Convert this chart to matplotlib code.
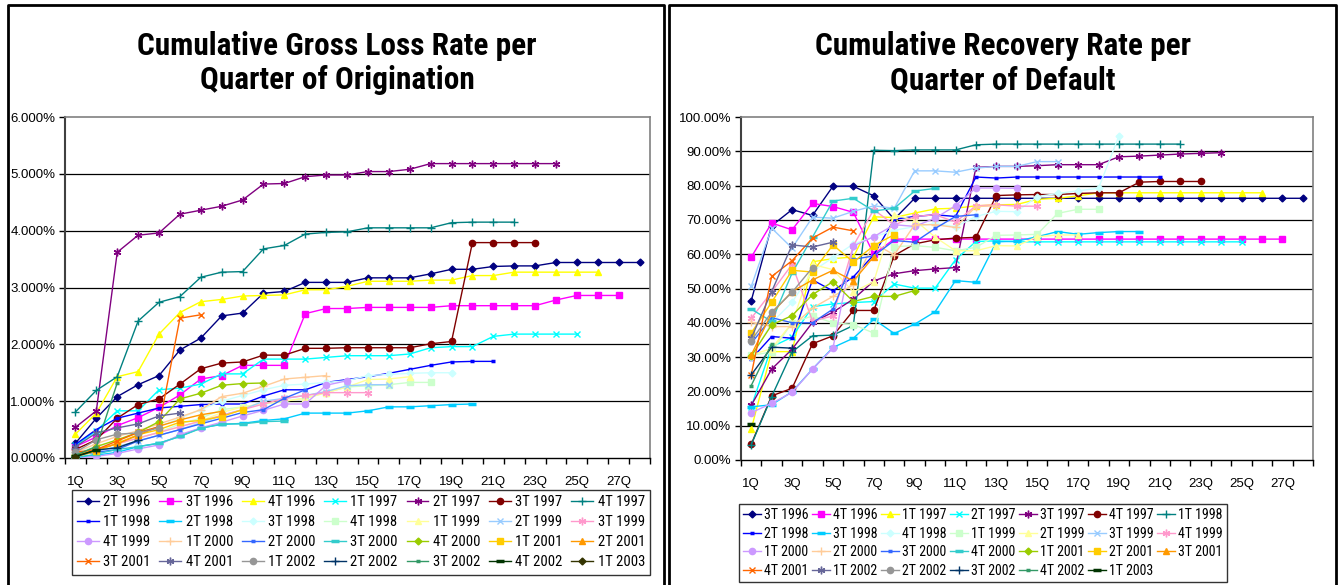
import matplotlib
matplotlib.use('Agg')
import matplotlib.pyplot as plt
from matplotlib import font_manager
from matplotlib.lines import Line2D
from matplotlib.ticker import FixedLocator, FuncFormatter

# ---------------- data ----------------
quarters = [f"{i}Q" for i in range(1, 29)]

loss_names = ["2T 1996", "3T 1996", "4T 1996", "1T 1997", "2T 1997", "3T 1997", "4T 1997",
              "1T 1998", "2T 1998", "3T 1998", "4T 1998", "1T 1999", "2T 1999", "3T 1999",
              "4T 1999", "1T 2000", "2T 2000", "3T 2000", "4T 2000", "1T 2001", "2T 2001",
              "3T 2001", "4T 2001", "1T 2002", "2T 2002", "3T 2002", "4T 2002", "1T 2003"]

loss_2T1996 = [0.26, 0.70, 1.08, 1.29, 1.45, 1.90, 2.11, 2.50, 2.55, 2.90, 2.93, 3.09, 3.09, 3.09,
               3.17, 3.17, 3.17, 3.24, 3.32, 3.32, 3.37, 3.38, 3.38, 3.44, 3.44, 3.44, 3.44, 3.44]
loss_3T1996 = [0.20, 0.37, 0.57, 0.71, 0.89, 1.11, 1.39, 1.45, 1.63, 1.63, 1.63, 2.54, 2.63, 2.63,
               2.65, 2.65, 2.65, 2.65, 2.68, 2.68, 2.68, 2.68, 2.68, 2.78, 2.86, 2.86, 2.86]
loss_4T1996 = [0.42, 0.79, 1.43, 1.52, 2.18, 2.56, 2.75, 2.79, 2.85, 2.86, 2.87, 2.96, 2.96, 3.02,
               3.11, 3.11, 3.11, 3.13, 3.13, 3.21, 3.21, 3.27, 3.27, 3.27, 3.27, 3.27]
loss_1T1997 = [0.22, 0.48, 0.83, 0.83, 1.20, 1.23, 1.30, 1.48, 1.48, 1.74, 1.74, 1.74, 1.77, 1.80,
               1.80, 1.80, 1.83, 1.94, 1.96, 1.96, 2.14, 2.18, 2.18, 2.18, 2.18]
loss_2T1997 = [0.54, 0.83, 3.62, 3.92, 3.96, 4.29, 4.36, 4.43, 4.54, 4.82, 4.83, 4.95, 4.98, 4.98,
               5.04, 5.04, 5.08, 5.18, 5.18, 5.18, 5.18, 5.18, 5.18, 5.18]
loss_3T1997 = [0.15, 0.32, 0.70, 0.94, 1.04, 1.30, 1.57, 1.67, 1.69, 1.81, 1.81, 1.93, 1.93, 1.94,
               1.94, 1.94, 1.94, 2.01, 2.05, 3.79, 3.79, 3.79, 3.79]
loss_4T1997 = [0.81, 1.19, 1.43, 2.41, 2.74, 2.84, 3.18, 3.27, 3.28, 3.68, 3.74, 3.94, 3.97, 3.98,
               4.05, 4.05, 4.05, 4.05, 4.14, 4.15, 4.15, 4.15]
loss_1T1998 = [0.24, 0.50, 0.70, 0.79, 0.88, 0.91, 0.94, 0.95, 0.95, 1.09, 1.20, 1.20, 1.33, 1.38,
               1.43, 1.49, 1.56, 1.63, 1.69, 1.70, 1.70]
loss_2T1998 = [0.02, 0.05, 0.10, 0.20, 0.26, 0.38, 0.53, 0.59, 0.61, 0.66, 0.69, 0.79, 0.79, 0.79,
               0.83, 0.90, 0.90, 0.92, 0.94, 0.95]
loss_3T1998 = [0.10, 0.20, 0.30, 0.45, 0.55, 0.70, 0.85, 1.00, 1.10, 1.20, 1.28, 1.30, 1.33, 1.36,
               1.45, 1.47, 1.49, 1.50, 1.50]
loss_4T1998 = [0.05, 0.15, 0.25, 0.35, 0.45, 0.60, 0.70, 0.85, 0.90, 0.95, 1.00, 1.05, 1.15, 1.25,
               1.27, 1.29, 1.33, 1.33]
loss_1T1999 = [0.05, 0.15, 0.25, 0.35, 0.45, 0.55, 0.65, 0.80, 0.90, 0.95, 1.00, 1.05, 1.15, 1.25,
               1.38, 1.39, 1.43]
loss_2T1999 = [0.05, 0.12, 0.20, 0.30, 0.40, 0.50, 0.62, 0.75, 0.85, 1.00, 1.05, 1.10, 1.17, 1.27,
               1.29, 1.29]
loss_3T1999 = [0.08, 0.15, 0.25, 0.35, 0.45, 0.55, 0.65, 0.75, 0.85, 0.95, 1.05, 1.10, 1.15, 1.15, 1.15]
loss_4T1999 = [0.00, 0.03, 0.08, 0.16, 0.23, 0.41, 0.53, 0.63, 0.74, 0.84, 0.95, 0.95, 1.28, 1.36]
loss_1T2000 = [0.10, 0.25, 0.38, 0.48, 0.60, 0.72, 0.85, 1.08, 1.14, 1.26, 1.39, 1.42, 1.45]
loss_2T2000 = [0.05, 0.10, 0.15, 0.30, 0.40, 0.50, 0.60, 0.70, 0.80, 0.85, 1.05, 1.20]
loss_3T2000 = [0.00, 0.07, 0.15, 0.20, 0.26, 0.38, 0.52, 0.60, 0.60, 0.64, 0.65]
loss_4T2000 = [0.05, 0.20, 0.32, 0.45, 0.64, 1.04, 1.14, 1.28, 1.31, 1.32]
loss_1T2001 = [0.02, 0.12, 0.26, 0.41, 0.50, 0.63, 0.66, 0.73, 0.85]
loss_2T2001 = [0.05, 0.15, 0.25, 0.40, 0.56, 0.67, 0.76, 0.82]
loss_3T2001 = [0.10, 0.15, 0.30, 0.45, 0.55, 2.46, 2.52]
loss_4T2001 = [0.20, 0.44, 0.53, 0.60, 0.74, 0.79]
loss_1T2002 = [0.10, 0.32, 0.42, 0.44, 0.53]
loss_2T2002 = [0.02, 0.14, 0.18, 0.31]
loss_3T2002 = [0.05, 0.20, 1.32]
loss_4T2002 = [0.03, 0.14]
loss_1T2003 = [0.02]

loss_values = [loss_2T1996, loss_3T1996, loss_4T1996, loss_1T1997, loss_2T1997, loss_3T1997,
               loss_4T1997, loss_1T1998, loss_2T1998, loss_3T1998, loss_4T1998, loss_1T1999,
               loss_2T1999, loss_3T1999, loss_4T1999, loss_1T2000, loss_2T2000, loss_3T2000,
               loss_4T2000, loss_1T2001, loss_2T2001, loss_3T2001, loss_4T2001, loss_1T2002,
               loss_2T2002, loss_3T2002, loss_4T2002, loss_1T2003]

rec_names = ["3T 1996", "4T 1996", "1T 1997", "2T 1997", "3T 1997", "4T 1997", "1T 1998",
             "2T 1998", "3T 1998", "4T 1998", "1T 1999", "2T 1999", "3T 1999", "4T 1999",
             "1T 2000", "2T 2000", "3T 2000", "4T 2000", "1T 2001", "2T 2001", "3T 2001",
             "4T 2001", "1T 2002", "2T 2002", "3T 2002", "4T 2002", "1T 2003"]

rec_3T1996 = [46.4, 68.3, 73.0, 71.3, 79.8, 79.8, 77.0, 70.2, 76.3, 76.3, 76.3, 76.3, 76.3, 76.3,
              76.3, 76.3, 76.3, 76.3, 76.3, 76.3, 76.3, 76.3, 76.3, 76.3, 76.3, 76.3, 76.3, 76.3]
rec_4T1996 = [59.1, 69.1, 67.1, 74.8, 73.9, 72.2, 60.0, 64.4, 64.4, 64.4, 64.4, 64.4, 64.4, 64.4,
              64.4, 64.4, 64.4, 64.4, 64.4, 64.4, 64.4, 64.4, 64.4, 64.4, 64.4, 64.4, 64.4]
rec_1T1997 = [9.0, 31.6, 31.6, 57.8, 58.7, 59.2, 70.9, 70.7, 72.0, 73.2, 73.4, 74.1, 74.4, 74.5,
              76.0, 76.3, 77.0, 77.9, 77.9, 77.9, 77.9, 77.9, 77.9, 77.9, 77.9, 77.9]
rec_2T1997 = [15.5, 33.0, 35.8, 44.7, 45.5, 45.9, 46.2, 51.3, 50.1, 50.1, 58.4, 63.7, 63.9, 63.6,
              63.6, 63.6, 63.6, 63.6, 63.6, 63.6, 63.6, 63.6, 63.6, 63.6, 63.6]
rec_3T1997 = [15.9, 26.5, 32.3, 40.1, 43.1, 46.9, 52.2, 54.3, 55.2, 55.7, 56.1, 85.3, 85.6, 85.6,
              85.8, 86.1, 86.1, 86.1, 88.4, 88.6, 88.9, 89.2, 89.4, 89.6]
rec_4T1997 = [4.6, 18.7, 20.9, 33.9, 36.2, 43.6, 43.6, 59.6, 63.0, 64.2, 64.7, 64.9, 77.1, 77.3,
              77.4, 77.4, 77.7, 77.9, 77.9, 81.0, 81.2, 81.2, 81.2]
rec_1T1998 = [4.4, 18.5, 31.5, 36.2, 36.4, 39.2, 90.3, 90.2, 90.4, 90.4, 90.4, 91.9, 92.1, 92.1,
              92.1, 92.1, 92.1, 92.1, 92.1, 92.1, 92.1, 92.1]
rec_2T1998 = [29.4, 36.0, 35.5, 52.5, 49.3, 53.4, 59.8, 70.2, 71.0, 71.5, 71.0, 82.5, 82.2, 82.5,
              82.5, 82.5, 82.5, 82.5, 82.5, 82.5, 82.5]
rec_3T1998 = [15.5, 16.1, 19.9, 26.5, 32.8, 35.5, 41.0, 36.9, 39.6, 43.2, 52.3, 51.8, 63.6, 63.8,
              65.1, 66.6, 65.8, 66.3, 66.6, 66.6]
rec_4T1998 = [30.0, 40.0, 46.0, 55.0, 59.0, 63.0, 65.0, 67.0, 68.0, 69.0, 68.0, 71.0, 72.5, 72.4,
              76.8, 77.7, 78.5, 79.2, 94.5]
rec_1T1999 = [30.5, 31.5, 40.0, 42.0, 40.0, 39.5, 37.0, 62.2, 62.5, 62.0, 61.0, 62.0, 65.5, 65.6,
              65.8, 71.9, 73.1, 73.1]
rec_2T1999 = [30.6, 32.5, 40.0, 57.0, 55.5, 49.0, 52.0, 71.5, 70.0, 65.0, 61.0, 61.0, 62.5, 62.4,
              65.1, 65.6, 65.6]
rec_3T1999 = [50.6, 67.6, 61.8, 70.8, 70.5, 72.5, 74.1, 73.4, 84.3, 84.3, 83.9, 85.1, 85.6, 85.6,
              87.0, 87.0]
rec_4T1999 = [41.3, 49.0, 57.0, 40.5, 42.0, 62.5, 73.0, 68.5, 71.0, 71.5, 69.4, 74.1, 74.4, 74.0, 74.0]
rec_1T2000 = [13.8, 16.5, 19.7, 26.5, 32.6, 62.4, 65.1, 68.6, 68.1, 70.5, 74.1, 79.3, 79.3, 79.2]
rec_2T2000 = [40.1, 38.9, 38.9, 44.3, 47.7, 51.1, 63.2, 59.8, 68.6, 68.6, 67.8, 73.9, 74.1]
rec_3T2000 = [34.0, 41.5, 40.0, 40.0, 44.0, 58.5, 59.5, 64.0, 63.5, 67.5, 71.0, 71.5]
rec_4T2000 = [44.0, 40.4, 54.5, 65.0, 75.5, 76.3, 72.6, 73.4, 78.4, 79.2]
rec_1T2001 = [30.3, 39.4, 42.1, 48.2, 52.0, 46.2, 47.7, 47.7, 49.4]
rec_2T2001 = [37.0, 46.0, 55.3, 54.8, 62.7, 57.7, 62.5, 65.7]
rec_3T2001 = [30.6, 42.8, 49.1, 52.5, 55.3, 52.2, 59.3]
rec_4T2001 = [24.8, 53.5, 58.1, 64.7, 67.9, 66.8]
rec_1T2002 = [35.5, 49.1, 62.7, 62.1, 63.5]
rec_2T2002 = [34.8, 43.1, 48.9, 56.1]
rec_3T2002 = [24.8, 32.9, 32.6]
rec_4T2002 = [21.7, 33.9]
rec_1T2003 = [10.5]

rec_values = [rec_3T1996, rec_4T1996, rec_1T1997, rec_2T1997, rec_3T1997, rec_4T1997, rec_1T1998,
              rec_2T1998, rec_3T1998, rec_4T1998, rec_1T1999, rec_2T1999, rec_3T1999, rec_4T1999,
              rec_1T2000, rec_2T2000, rec_3T2000, rec_4T2000, rec_1T2001, rec_2T2001, rec_3T2001,
              rec_4T2001, rec_1T2002, rec_2T2002, rec_3T2002, rec_4T2002, rec_1T2003]

# ---------------- style ----------------
colors = ["#000080", "#FF00FF", "#FFFF00", "#00FFFF", "#800080", "#800000", "#008080", "#0000FF",
          "#00CCFF", "#CCFFFF", "#CCFFCC", "#FFFF99", "#99CCFF", "#FF99CC", "#CC99FF", "#FFCC99",
          "#3366FF", "#33CCCC", "#99CC00", "#FFCC00", "#FF9900", "#FF6600", "#666699", "#969696",
          "#003366", "#339966", "#003300", "#333300"]
marker_cycle = [("D", 3.5, 1.0), ("s", 4.5, 1.0), ("^", 5.0, 1.0), ("x", 4.5, 1.0),
                ((6, 2, 0), 5.5, 1.0), ("o", 4.5, 1.0), ("+", 5.5, 1.0), ("_", 3.5, 2.5),
                ("_", 6.0, 2.5)]


def pick(*names):
    avail = {f.name for f in font_manager.fontManager.ttflist}
    for n in names:
        if n in avail:
            return n
    return "DejaVu Sans"


REG = pick("Liberation Sans", "Arial", "DejaVu Sans")
NARROW = pick("Liberation Sans Narrow", "Arial Narrow", "Roboto Condensed", "Liberation Sans")
plt.rcParams["font.family"] = [REG, "DejaVu Sans"]

W, H = 1342, 585
fig = plt.figure(figsize=(W / 100, H / 100), dpi=100)


def fx(px):
    return px / W


def fy(py):
    return 1 - py / H


def make_axes(x0, y0, x1, y1, names, values, ymax, fmt, legend_box, leg_opts):
    ax = fig.add_axes([fx(x0), fy(y1), fx(x1 - x0), (y1 - y0) / H])
    handles = []
    for k, (name, vals) in enumerate(zip(names, values)):
        m, ms, mew = marker_cycle[k % 9]
        (ln,) = ax.plot(range(len(vals)), [v / 100 for v in vals], color=colors[k], lw=1.0,
                        marker=m, markersize=ms, markeredgewidth=mew,
                        markerfacecolor=colors[k], markeredgecolor=colors[k], label=name,
                        zorder=3 + k * 0.01)
        handles.append(ln)
    ax.set_xlim(-0.5, len(quarters) - 0.5)
    ax.set_ylim(0, ymax)
    step = ymax / (6 if ymax < 0.5 else 10)
    yt = [i * step for i in range(int(round(ymax / step)) + 1)]
    ax.yaxis.set_major_locator(FixedLocator(yt))
    ax.yaxis.set_major_formatter(FuncFormatter(lambda v, p: fmt.format(v * 100)))
    for v in yt[1:-1]:
        ax.axhline(v, color="black", lw=0.9, zorder=1)
    ax.xaxis.set_major_locator(FixedLocator(list(range(0, len(quarters), 2))))
    ax.set_xticklabels(quarters[::2])
    ax.xaxis.set_minor_locator(FixedLocator([i - 0.5 for i in range(len(quarters) + 1)]))
    ax.tick_params(axis="x", which="major", length=0, pad=13, labelsize=9.5)
    ax.tick_params(axis="x", which="minor", length=4, width=1, direction="out", color="black")
    ax.tick_params(axis="y", length=4, width=1, direction="out", labelsize=9.5, pad=3)
    for s in ("top", "right"):
        ax.spines[s].set_color("#808080")
        ax.spines[s].set_linewidth(1.2)
    ax.spines["left"].set_color("#404040")
    ax.spines["left"].set_linewidth(1.5)
    ax.spines["bottom"].set_color("black")
    ax.spines["bottom"].set_linewidth(1.0)

    # legend: row-wise ordering like the original
    ncol = 7
    n = len(handles)
    order = []
    for c in range(ncol):
        r = 0
        while r * ncol + c < n:
            order.append(r * ncol + c)
            r += 1
    lx0, ly0, lx1, ly1 = legend_box
    leg = fig.legend([handles[i] for i in order], [names[i] for i in order], ncol=ncol,
                     loc="upper left", mode="expand",
                     bbox_to_anchor=(fx(lx0), fy(ly1), fx(lx1 - lx0), (ly1 - ly0) / H),
                     borderaxespad=0, frameon=True, fancybox=False, edgecolor="black",
                     **leg_opts)
    leg.get_frame().set_linewidth(1.0)
    return ax


make_axes(65, 117, 650, 458, loss_names, loss_values, 0.06, "{:.3f}%",
          (72, 490, 650, 580),
          dict(handlelength=1.5, handletextpad=0.3, columnspacing=0.4, labelspacing=0.42,
               borderpad=0.35, prop={"family": [NARROW, "DejaVu Sans"], "size": 10.5}))
make_axes(741, 117, 1313, 460, rec_names, rec_values, 1.0, "{:.2f}%",
          (739, 504, 1227, 581),
          dict(handlelength=1.25, handletextpad=0.25, columnspacing=0.2, labelspacing=0.33,
               borderpad=0.3, prop={"family": [NARROW, "DejaVu Sans"], "size": 10}))

# titles
fig.text(fx(337), fy(63), "Cumulative Gross Loss Rate per\nQuarter of Origination",
         ha="center", va="center", fontsize=22.5, fontweight="bold",
         family=[NARROW, "DejaVu Sans"], linespacing=1.15)
fig.text(fx(1003), fy(63), "Cumulative Recovery Rate per\nQuarter of Default",
         ha="center", va="center", fontsize=22.5, fontweight="bold",
         family=[NARROW, "DejaVu Sans"], linespacing=1.15)

# panel frames
for (a, b) in ((8, 664), (669, 1336)):
    fig.add_artist(Line2D([fx(a), fx(a), fx(b), fx(b)], [0, fy(5), fy(5), 0],
                          color="black", lw=2.0, transform=fig.transFigure))

fig.savefig("out.png", dpi=100)
